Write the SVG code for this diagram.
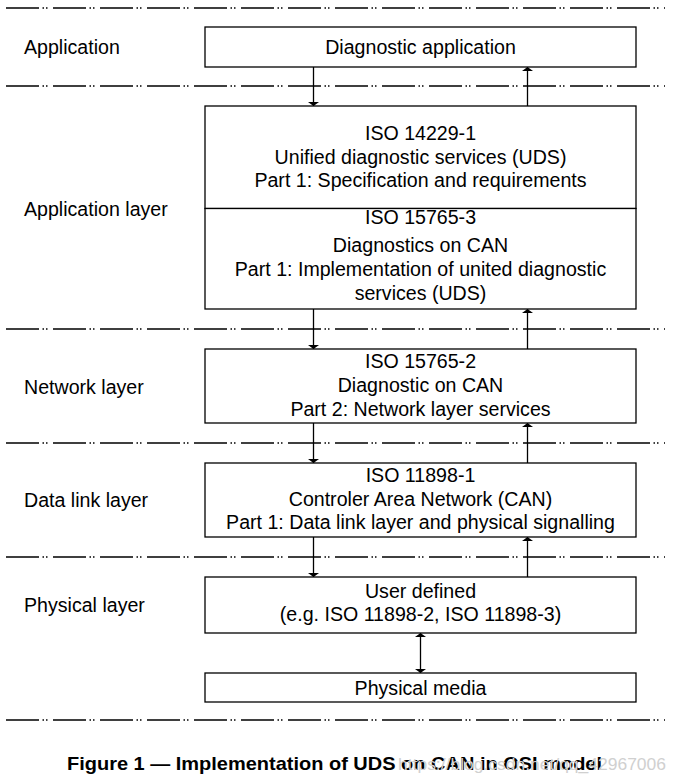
<svg xmlns="http://www.w3.org/2000/svg" width="675" height="782" viewBox="0 0 675 782">
<defs>
<marker id="ah" viewBox="0 0 10 10" refX="10" refY="5" markerWidth="4" markerHeight="11" markerUnits="userSpaceOnUse" orient="auto" preserveAspectRatio="none">
<path d="M0,0 L10,5 L0,10 Z" fill="#000"/>
</marker>
<marker id="ahs" viewBox="0 0 10 10" refX="0" refY="5" markerWidth="4" markerHeight="11" markerUnits="userSpaceOnUse" orient="auto" preserveAspectRatio="none">
<path d="M10,0 L0,5 L10,10 Z" fill="#000"/>
</marker>
</defs>
<style>
text{font-family:"Liberation Sans",Arial,sans-serif;font-size:19.6px;fill:#000}
.c{text-anchor:middle}
.box{fill:#fff;stroke:#000;stroke-width:1.3}
.sep{stroke:#000;stroke-width:1.3;stroke-dasharray:33 3.5 1.5 2 1.5 5.5;fill:none}
.arr{stroke:#000;stroke-width:1.3;fill:none}
.cap{font-weight:bold;font-size:19px}
.wm{fill:#d0d0d0;font-size:17px}
</style>
<rect width="675" height="782" fill="#fff"/>
<g id="separators">
<line class="sep" x1="6" y1="8" x2="665" y2="8"/>
<line class="sep" x1="6" y1="86" x2="665" y2="86"/>
<line class="sep" x1="6" y1="329" x2="665" y2="329"/>
<line class="sep" x1="6" y1="443" x2="665" y2="443"/>
<line class="sep" x1="6" y1="557" x2="665" y2="557"/>
<line class="sep" x1="6" y1="720" x2="665" y2="720"/>
</g>
<g id="layer-labels">
<text x="24" y="54">Application</text>
<text x="24" y="216">Application layer</text>
<text x="24" y="394">Network layer</text>
<text x="24" y="507">Data link layer</text>
<text x="24" y="612">Physical layer</text>
</g>
<g id="connectors">
<line class="arr" x1="313.5" y1="67" x2="313.5" y2="106" marker-end="url(#ah)"/>
<line class="arr" x1="527.5" y1="106" x2="527.5" y2="67" marker-end="url(#ah)"/>
<line class="arr" x1="313.5" y1="309" x2="313.5" y2="349" marker-end="url(#ah)"/>
<line class="arr" x1="527.5" y1="349" x2="527.5" y2="309" marker-end="url(#ah)"/>
<line class="arr" x1="313.5" y1="423" x2="313.5" y2="463" marker-end="url(#ah)"/>
<line class="arr" x1="527.5" y1="463" x2="527.5" y2="423" marker-end="url(#ah)"/>
<line class="arr" x1="313.5" y1="537" x2="313.5" y2="577" marker-end="url(#ah)"/>
<line class="arr" x1="527.5" y1="577" x2="527.5" y2="537" marker-end="url(#ah)"/>
<line class="arr" x1="420.5" y1="633" x2="420.5" y2="673" marker-start="url(#ahs)" marker-end="url(#ah)"/>
</g>
<g id="diag-app">
<rect class="box" x="205" y="27" width="431" height="40"/>
<text class="c" x="420.5" y="54">Diagnostic application</text>
</g>
<g id="iso14229">
<rect class="box" x="205" y="106" width="431" height="102.5"/>
<text class="c" x="420.5" y="140">ISO 14229-1</text>
<text class="c" x="420.5" y="164">Unified diagnostic services (UDS)</text>
<text class="c" x="420.5" y="187">Part 1: Specification and requirements</text>
</g>
<g id="iso15765-3">
<rect class="box" x="205" y="208.5" width="431" height="100.5"/>
<text class="c" x="420.5" y="224">ISO 15765-3</text>
<text class="c" x="420.5" y="252">Diagnostics on CAN</text>
<text class="c" x="420.5" y="276">Part 1: Implementation of united diagnostic</text>
<text class="c" x="420.5" y="300">services (UDS)</text>
</g>
<g id="iso15765-2">
<rect class="box" x="205" y="349" width="431" height="74"/>
<text class="c" x="420.5" y="368">ISO 15765-2</text>
<text class="c" x="420.5" y="392">Diagnostic on CAN</text>
<text class="c" x="420.5" y="416">Part 2: Network layer services</text>
</g>
<g id="iso11898-1">
<rect class="box" x="205" y="463" width="431" height="74"/>
<text class="c" x="420.5" y="482">ISO 11898-1</text>
<text class="c" x="420.5" y="506">Controler Area Network (CAN)</text>
<text class="c" x="420.5" y="529">Part 1: Data link layer and physical signalling</text>
</g>
<g id="user-defined">
<rect class="box" x="205" y="577" width="431" height="56"/>
<text class="c" x="420.5" y="598">User defined</text>
<text class="c" x="420.5" y="621">(e.g. ISO 11898-2, ISO 11898-3)</text>
</g>
<g id="physical-media">
<rect class="box" x="205" y="673" width="431" height="29"/>
<text class="c" x="420.5" y="695">Physical media</text>
</g>
<g id="caption">
<text class="cap" x="67" y="770" textLength="535" lengthAdjust="spacingAndGlyphs">Figure 1 — Implementation of UDS on CAN in OSI model</text>
<text class="wm" x="398" y="770" textLength="268" lengthAdjust="spacingAndGlyphs">https://blog.csdn.net/qq_42967006</text>
</g>
</svg>
